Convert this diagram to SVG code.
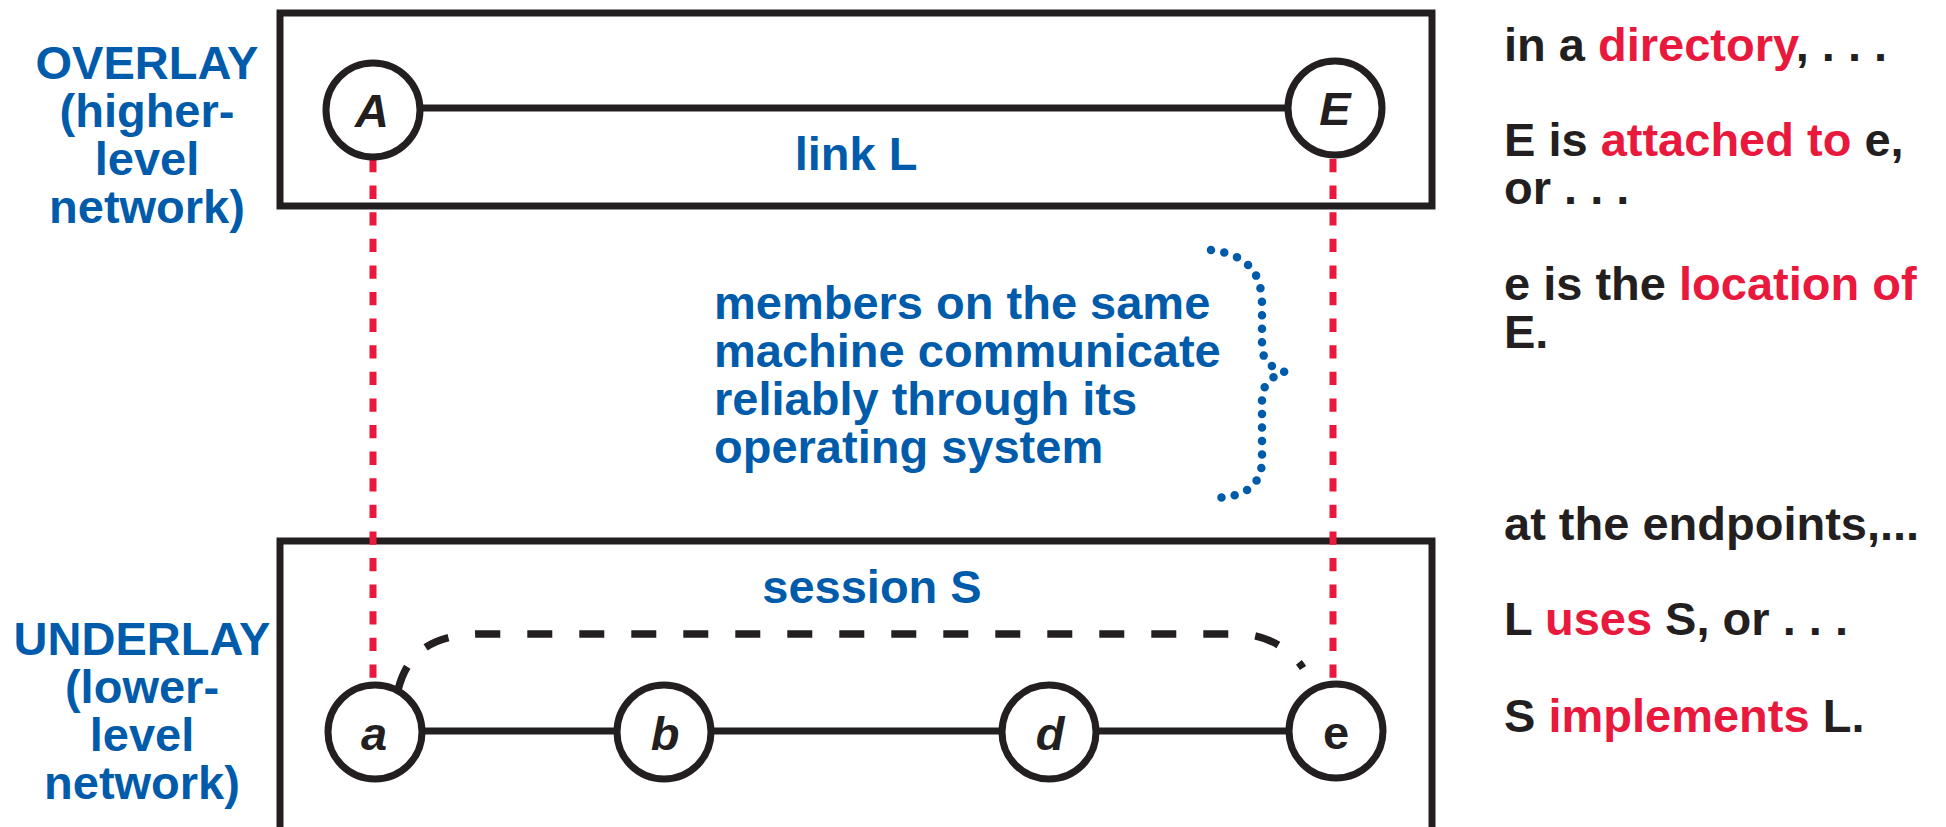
<svg xmlns="http://www.w3.org/2000/svg" width="1946" height="827" viewBox="0 0 1946 827">
<style>
text{font-family:"Liberation Sans",Arial,sans-serif;font-weight:bold;font-size:47px}
.blue{fill:#005baa}
.blk{fill:#231f20}
.red{fill:#e8193c}
.box{fill:none;stroke:#231f20;stroke-width:7}
.node circle{fill:#fff;stroke:#231f20;stroke-width:7}
.node text{fill:#231f20;text-anchor:middle;font-style:italic}
.edge{stroke:#231f20;stroke-width:7;fill:none}
.map{stroke:#e8193c;stroke-width:7;stroke-dasharray:13.3 13.3;fill:none}
.sess{stroke:#231f20;stroke-width:7.5;stroke-dasharray:25 27;fill:none}
.brace{stroke:#005baa;stroke-width:8.5;stroke-linecap:round;stroke-dasharray:0 13.5;fill:none}
.mid{text-anchor:middle}
</style>
<rect width="1946" height="827" fill="#fff"/>
<g id="overlay-box"><rect class="box" x="280" y="13" width="1152" height="193"/></g>
<g id="underlay-box"><rect class="box" x="280" y="541" width="1152" height="290"/></g>
<g id="labels-left" class="blue">
<text class="mid blue" x="147" y="79">OVERLAY</text>
<text class="mid blue" x="147" y="127">(higher-</text>
<text class="mid blue" x="147" y="175">level</text>
<text class="mid blue" x="147" y="223">network)</text>
<text class="mid blue" x="142" y="655">UNDERLAY</text>
<text class="mid blue" x="142" y="703">(lower-</text>
<text class="mid blue" x="142" y="751">level</text>
<text class="mid blue" x="142" y="799">network)</text>
</g>
<g id="connectors">
<line class="edge" x1="373" y1="108" x2="1335" y2="108"/>
<line class="edge" x1="375" y1="731" x2="1336" y2="731"/>
<path class="sess" d="M398,690 C408,650 435,634 482,634 L1238,634 C1265,634 1290,648 1303,668"/>
<line class="map" x1="373" y1="159" x2="373" y2="682"/>
<line class="map" x1="1333" y1="159" x2="1333" y2="680"/>
<path class="brace" d="M1211,250 C1250,255 1262,275 1262,305 L1262,345 C1262,362 1272,368 1285,372 C1272,376 1262,384 1262,400 L1262,460 C1262,485 1245,497 1215,498"/>
</g>
<g id="node-A" class="node"><circle cx="373" cy="110" r="47"/><text x="372" y="127">A</text></g>
<g id="node-E" class="node"><circle cx="1335" cy="108" r="47"/><text x="1335" y="125">E</text></g>
<g id="node-a" class="node"><circle cx="375" cy="732" r="47"/><text x="374" y="750">a</text></g>
<g id="node-b" class="node"><circle cx="664" cy="732" r="47"/><text x="665" y="750">b</text></g>
<g id="node-d" class="node"><circle cx="1049" cy="732" r="47"/><text x="1050" y="750">d</text></g>
<g id="node-e" class="node"><circle cx="1336" cy="731" r="47"/><text x="1336" y="749" style="font-style:normal">e</text></g>
<g id="label-link"><text class="mid blue" x="856" y="170">link L</text></g>
<g id="label-session"><text class="mid blue" x="872" y="603">session S</text></g>
<g id="label-members" class="blue">
<text class="blue" x="714" y="319">members on the same</text>
<text class="blue" x="714" y="367">machine communicate</text>
<text class="blue" x="714" y="415">reliably through its</text>
<text class="blue" x="714" y="463">operating system</text>
</g>
<g id="labels-right" class="blk">
<text x="1504" y="61"><tspan class="blk">in a </tspan><tspan class="red">directory</tspan><tspan class="blk">, . . .</tspan></text>
<text x="1504" y="156"><tspan class="blk">E is </tspan><tspan class="red">attached to</tspan><tspan class="blk"> e,</tspan></text>
<text class="blk" x="1504" y="204">or . . .</text>
<text x="1504" y="300"><tspan class="blk">e is the </tspan><tspan class="red">location of</tspan></text>
<text class="blk" x="1504" y="348">E.</text>
<text class="blk" x="1504" y="540">at the endpoints,...</text>
<text x="1504" y="635"><tspan class="blk">L </tspan><tspan class="red">uses</tspan><tspan class="blk"> S, or . . .</tspan></text>
<text x="1504" y="732"><tspan class="blk">S </tspan><tspan class="red">implements</tspan><tspan class="blk"> L.</tspan></text>
</g>
</svg>
